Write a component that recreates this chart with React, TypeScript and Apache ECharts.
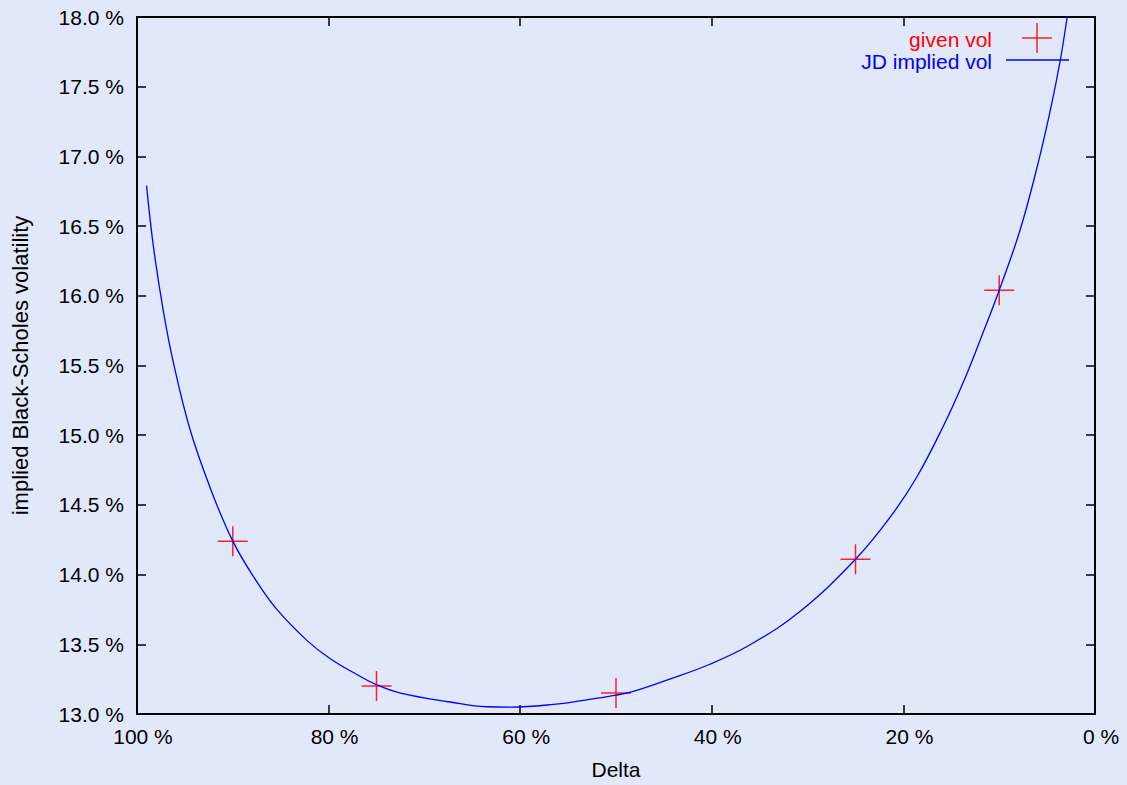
import React, { useEffect, useRef } from "react";
import * as echarts from "echarts";

// Given market vols (delta in %, vol in %)
const givenDelta = [90, 75, 50, 25, 10];
const givenVol = [14.24, 13.2, 13.15, 14.11, 16.04];

// JD implied vol curve
const curveDelta = [99.0, 98.3, 97.25, 96.2, 94.5, 92.4, 90.0, 87.5, 85.4, 82.3, 79.9, 77.1, 75.0, 72.5, 67.3, 63.5, 61.0, 56.5, 53.4, 50.0, 48.2, 44.7, 40.2, 36.0, 30.8, 25.0, 21.4, 18.6, 15.8, 13.75, 12.0, 10.0, 7.83, 6.09, 4.7, 3.65, 2.9, 2.6];
const curveVol = [16.79, 16.36, 15.89, 15.52, 15.05, 14.63, 14.24, 13.95, 13.75, 13.53, 13.4, 13.285, 13.21, 13.15, 13.086, 13.052, 13.05, 13.069, 13.098, 13.135, 13.162, 13.243, 13.357, 13.497, 13.735, 14.11, 14.41, 14.7, 15.07, 15.38, 15.68, 16.04, 16.47, 16.91, 17.32, 17.68, 18.0, 18.13];

const seriesNames = ["given vol", "JD implied vol"];
const xName = "Delta";
const yName = "implied Black-Scholes volatility";

const FONT = "'Liberation Sans', Arial, Helvetica, sans-serif";

export default function App() {
  const ref = useRef<HTMLDivElement>(null);
  useEffect(() => {
    if (!ref.current) return;
    const chart = echarts.init(ref.current, undefined, { renderer: "svg" });
    const axisLine = { show: true, onZero: false, lineStyle: { color: "#000", width: 2 } };
    const axisTick = { show: true, inside: true, length: 9, lineStyle: { color: "#000", width: 1.5 } };
    chart.setOption({
      animation: false,
      backgroundColor: "#e0e8fa",
      textStyle: { fontFamily: FONT },
      grid: { left: 137, right: 32, top: 17, bottom: 67 },
      xAxis: [
        {
          type: "value",
          min: 0,
          max: 100,
          interval: 20,
          inverse: true,
          position: "bottom",
          name: xName,
          nameLocation: "middle",
          nameGap: 45,
          nameTextStyle: { fontSize: 21, color: "#000", fontFamily: FONT },
          axisLine,
          axisTick,
          splitLine: { show: false },
          axisLabel: {
            color: "#000",
            fontSize: 21,
            fontFamily: FONT,
            margin: 12,
            padding: [0, 0, 0, 12],
            formatter: (v: number) => `${v} %`,
          },
        },
        {
          type: "value",
          min: 0,
          max: 100,
          interval: 20,
          inverse: true,
          position: "top",
          axisLine,
          axisTick,
          splitLine: { show: false },
          axisLabel: { show: false },
        },
      ],
      yAxis: [
        {
          type: "value",
          min: 13,
          max: 18,
          interval: 0.5,
          position: "left",
          name: yName,
          nameLocation: "middle",
          nameGap: 106,
          nameTextStyle: { fontSize: 22, color: "#000", fontFamily: FONT },
          axisLine,
          axisTick,
          splitLine: { show: false },
          axisLabel: {
            color: "#000",
            fontSize: 21,
            fontFamily: FONT,
            margin: 13,
            formatter: (v: number) => `${v.toFixed(1)} %`,
          },
        },
        {
          type: "value",
          min: 13,
          max: 18,
          interval: 0.5,
          position: "right",
          axisLine,
          axisTick,
          splitLine: { show: false },
          axisLabel: { show: false },
        },
      ],
      series: [
        {
          name: seriesNames[0],
          type: "scatter",
          z: 2,
          symbol: "path://M0,14.25 h30 v1.5 h-30 z M14.25,0 h1.5 v30 h-1.5 z",
          symbolSize: [30, 30],
          itemStyle: { color: "#ff0000", opacity: 0.85 },
          data: givenDelta.map((d, i) => [d, givenVol[i]]),
        },
        {
          name: seriesNames[1],
          type: "line",
          z: 3,
          symbol: "none",
          smooth: 0.4,
          clip: true,
          lineStyle: { color: "#0000ff", width: 1.3 },
          data: curveDelta.map((d, i) => [d, curveVol[i]]),
        },
      ],
      graphic: [
        {
          type: "text",
          x: 992,
          y: 39,
          style: { text: seriesNames[0], fill: "#ff0000", font: `21px ${FONT}`, textAlign: "right", textVerticalAlign: "middle" },
        },
        { type: "line", shape: { x1: 1022, y1: 38, x2: 1052, y2: 38 }, style: { stroke: "#ff0000", lineWidth: 1.5, opacity: 0.85 } },
        { type: "line", shape: { x1: 1037, y1: 23, x2: 1037, y2: 53 }, style: { stroke: "#ff0000", lineWidth: 1.5, opacity: 0.85 } },
        {
          type: "text",
          x: 992,
          y: 61,
          style: { text: seriesNames[1], fill: "#0000ff", font: `21px ${FONT}`, textAlign: "right", textVerticalAlign: "middle" },
        },
        { type: "line", shape: { x1: 1006, y1: 60, x2: 1069, y2: 60 }, style: { stroke: "#0000ff", lineWidth: 1.3 } },
      ],
    });
    return () => chart.dispose();
  }, []);
  return (
    <div
      ref={ref}
      style={{ position: "fixed", left: 0, top: 0, width: 1127, height: 785 }}
    />
  );
}
